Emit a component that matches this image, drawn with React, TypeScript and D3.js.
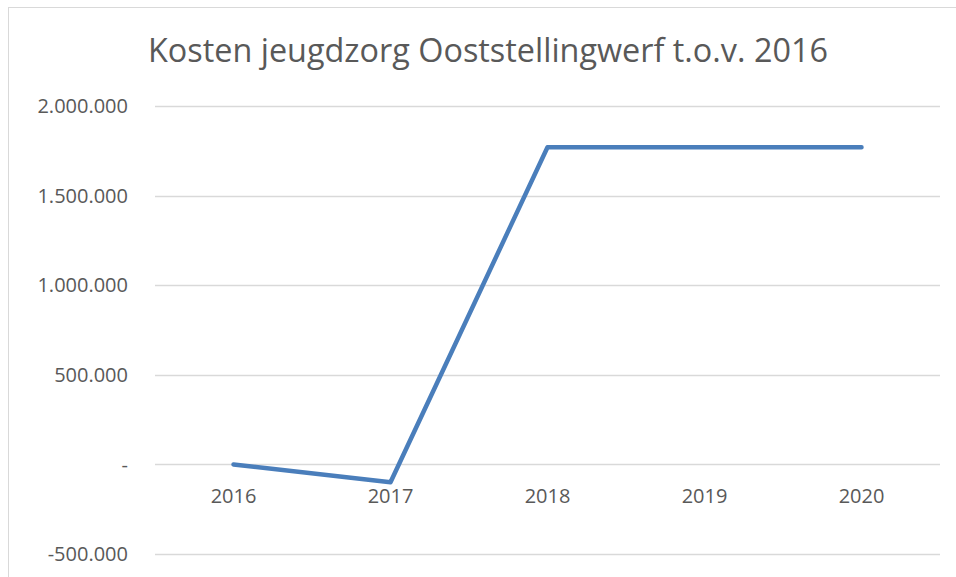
import * as d3 from "d3";
import React, { useEffect, useRef } from "react";

const years = ["2016", "2017", "2018", "2019", "2020"];
const kosten = [0, -100000, 1770000, 1770000, 1770000];
const yTicks = [-500000, 0, 500000, 1000000, 1500000, 2000000];
const title = "Kosten jeugdzorg Ooststellingwerf t.o.v. 2016";

const width = 956;
const height = 577;
const plotLeft = 155;
const plotRight = 940;
const plotTop = 106;
const plotBottom = 554;

const fmt = (v: number) => {
    if (v === 0) return "-";
    const s = d3.format(",")(v);
    return s.replace(/,/g, ".").replace("−", "-");
};

function App() {
    const svgRef: any = useRef<any>(null);

    useEffect(() => {
        draw();
    }, []);

    const draw = () => {
        const svg = d3.select(svgRef.current);
        svg.selectAll("*").remove();

        const x = d3.scaleBand<string>().domain(years).range([plotLeft, plotRight]);
        const y = d3.scaleLinear().domain([-500000, 2000000]).range([plotBottom, plotTop]);

        svg.append("rect")
            .attr("width", width).attr("height", height).attr("fill", "#fff");

        // chart frame
        svg.append("rect")
            .attr("x", 8.5).attr("y", 7.5)
            .attr("width", width + 20).attr("height", height + 20)
            .attr("fill", "none").attr("stroke", "#d9d9d9").attr("stroke-width", 1);

        svg.append("text")
            .attr("x", 488)
            .attr("y", 62)
            .attr("text-anchor", "middle")
            .attr("font-family", "'Open Sans', sans-serif")
            .attr("font-size", 32)
            .attr("textLength", 680)
            .attr("lengthAdjust", "spacingAndGlyphs")
            .attr("fill", "#595959")
            .text(title);

        const grid = svg.append("g");
        grid.selectAll("line")
            .data(yTicks)
            .join("line")
            .attr("x1", plotLeft).attr("x2", plotRight)
            .attr("y1", d => Math.round(y(d)) + 0.5)
            .attr("y2", d => Math.round(y(d)) + 0.5)
            .attr("stroke", "#d9d9d9").attr("stroke-width", 1.5);

        svg.append("g")
            .selectAll("text")
            .data(yTicks)
            .join("text")
            .attr("x", 128)
            .attr("y", d => y(d))
            .attr("dy", "0.36em")
            .attr("text-anchor", "end")
            .attr("font-family", "'Open Sans', sans-serif")
            .attr("font-size", 20)
            .attr("fill", "#595959")
            .text(d => fmt(d));

        svg.append("g")
            .selectAll("text")
            .data(years)
            .join("text")
            .attr("x", d => (x(d) || 0) + x.bandwidth() / 2)
            .attr("y", 503)
            .attr("text-anchor", "middle")
            .attr("font-family", "'Open Sans', sans-serif")
            .attr("font-size", 20)
            .attr("fill", "#595959")
            .text(d => d);

        const line = d3.line<number>()
            .x((_, i) => (x(years[i]) || 0) + x.bandwidth() / 2)
            .y(d => y(d));

        svg.append("path")
            .datum(kosten)
            .attr("d", line)
            .attr("fill", "none")
            .attr("stroke", "#4a7ebb")
            .attr("stroke-width", 4.5)
            .attr("stroke-linejoin", "round")
            .attr("stroke-linecap", "round");
    };

    return (
        <svg
            ref={svgRef}
            width={width}
            height={height}
            style={{ position: "absolute", left: 0, top: 0 }}
        />
    );
}

export default App;
